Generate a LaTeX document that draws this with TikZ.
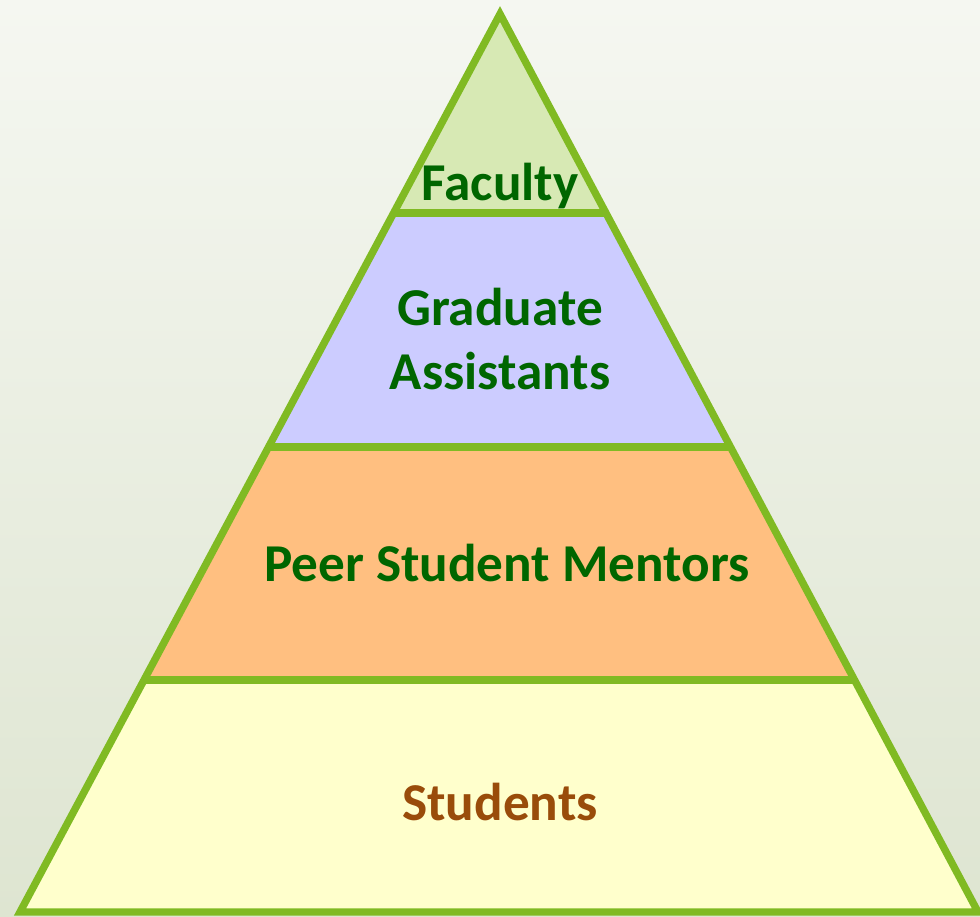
\documentclass[tikz,border=0pt]{standalone}
\usepackage{fontspec}
\setmainfont{Carlito}
\usetikzlibrary{calc}
\usetikzlibrary{positioning}

\definecolor{rim}{RGB}{128,186,35}
\definecolor{facfill}{RGB}{215,233,180}
\definecolor{gradfill}{RGB}{204,204,255}
\definecolor{peerfill}{RGB}{255,191,128}
\definecolor{studfill}{RGB}{255,255,204}
\definecolor{darkgreen}{RGB}{0,102,0}
\definecolor{brownish}{RGB}{153,76,10}
\definecolor{bgtop}{RGB}{245,247,241}
\definecolor{bgbot}{RGB}{222,229,209}

\begin{document}
\begin{tikzpicture}[x=0.02cm,y=-0.02cm]
		\tikzset{tier/.style = {draw=rim, line width=4.2pt, line join=miter},
			tiertext/.style = {font=\fontsize{30.3}{36}\selectfont\bfseries, text=darkgreen, align=center}}
		% background
		\useasboundingbox (0,0) rectangle (980,916);
		\shade[top color=bgtop, bottom color=bgbot] (0,0) rectangle (980,916);
		
		\coordinate (apex) at (500,14);
		\coordinate (bl) at (20,912);
		\coordinate (br) at (978,912);
		% side points of the cuts
		\coordinate (l1) at ($(apex)!0.2216!(bl)$);
		\coordinate (r1) at ($(apex)!0.2216!(br)$);
		\coordinate (l2) at ($(apex)!0.4822!(bl)$);
		\coordinate (r2) at ($(apex)!0.4822!(br)$);
		\coordinate (l3) at ($(apex)!0.7416!(bl)$);
		\coordinate (r3) at ($(apex)!0.7416!(br)$);
		
		\fill[studfill] (l3) -- (r3) -- (br) -- (bl) -- cycle;
		\fill[peerfill] (l2) -- (r2) -- (r3) -- (l3) -- cycle;
		\fill[gradfill] (l1) -- (r1) -- (r2) -- (l2) -- cycle;
		\fill[facfill] (apex) -- (r1) -- (l1) -- cycle;
		
		\draw[tier] (apex) -- (br) -- (bl) -- cycle;
		\draw[tier] (l1) -- (r1);
		\draw[tier] (l2) -- (r2);
		\draw[tier] (l3) -- (r3);
		
		\node[tiertext] (faculty) at (500,186) {Faculty};
		\node[tiertext] (grad) at (500,339) {Graduate\\Assistants};
		\node[tiertext] (peer) at (507,563) {Peer Student Mentors};
		\node[tiertext, text=brownish] (students) at (500,802) {Students};
		
		\end{tikzpicture}
\end{document}
